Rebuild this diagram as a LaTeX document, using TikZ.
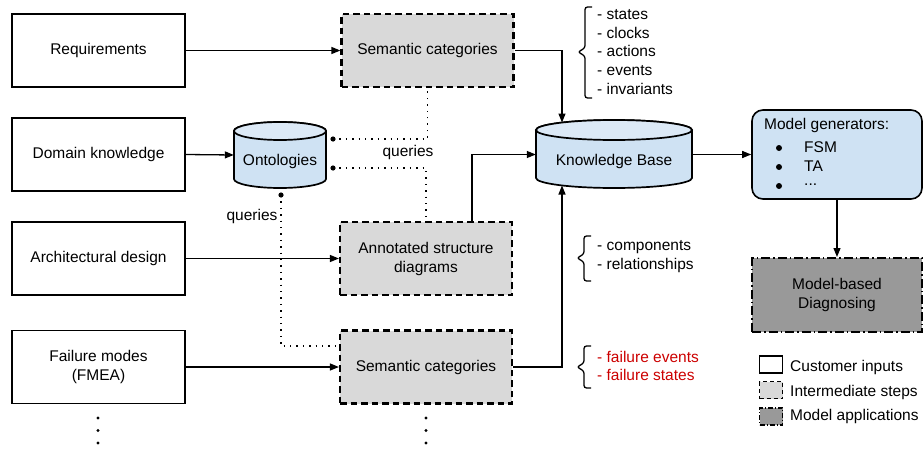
\documentclass[tikz,border=0pt]{standalone}
\usepackage{fontspec}
\setmainfont{Liberation Sans}
\usetikzlibrary{arrows.meta}
\definecolor{lblue}{HTML}{CFE2F3}
\definecolor{lbluetop}{HTML}{DCE9F6}
\definecolor{lgray}{HTML}{D9D9D9}
\definecolor{dgray}{HTML}{999999}
\definecolor{redtxt}{HTML}{CC0000}
\begin{document}
\begin{tikzpicture}[x=1pt,y=-1pt,
  every node/.style={font=\fontsize{15.5pt}{19pt}\selectfont, inner sep=0pt},
  inbox/.style={draw, line width=1.8pt, fill=white, minimum width=173pt, minimum height=73pt, align=center},
  midbox/.style={draw, line width=2.2pt, fill=lgray, dash pattern=on 6.5pt off 4pt, minimum width=172pt, minimum height=73pt, align=center},
  appbox/.style={draw, line width=2pt, fill=dgray, dash pattern=on 9pt off 3pt on 1.5pt off 3pt, minimum width=170pt, minimum height=74pt, align=center},
  genbox/.style={draw, line width=1.6pt, fill=lblue, rounded corners=11pt, minimum width=170pt, minimum height=89pt},
  cylbox/.style={minimum width=#1, minimum height=66pt},
  cyl/.style={line width=1.7pt, fill=lblue},
  arr/.style={line width=1.3pt, -{Triangle[length=9pt,width=7pt]}},
  dots/.style={line width=1.4pt, dash pattern=on 1.4pt off 5pt},
  brace/.style={line width=1.3pt, rounded corners=2.5pt},
  lst/.style={anchor=west, align=left, font=\fontsize{15.5pt}{18.75pt}\selectfont},
  lgbox/.style={minimum width=23pt, minimum height=17pt, line width=1.5pt}
]
\useasboundingbox (0,0) rectangle (924,450);

% customer inputs
\node[inbox] (req)  at (98.5,50.5)  {\raisebox{-1.5pt}{Requirements}};
\node[inbox] (dom)  at (98.5,154.5) {\raisebox{-1.5pt}{Domain knowledge}};
\node[inbox] (arch) at (98.5,258.5) {\raisebox{-1.5pt}{Architectural design}};
\node[inbox] (fail) at (98.5,367)   {Failure modes\\(FMEA)};

% intermediate steps
\node[midbox] (sem1) at (427.5,50.5) {\raisebox{-1.5pt}{Semantic categories}};
\node[midbox] (ann)  at (426,258.5)  {Annotated structure\\diagrams};
\node[midbox] (sem2) at (426,367)    {\raisebox{-1.5pt}{Semantic categories}};

% Ontologies cylinder
\filldraw[cyl] (234,131) -- (234,179) arc[start angle=180,end angle=360,x radius=46pt,y radius=9pt]
  -- (326,131) arc[start angle=0,end angle=180,x radius=46pt,y radius=9pt] -- cycle;
\filldraw[line width=1.7pt, fill=lbluetop] (280,131) ellipse[x radius=46pt,y radius=9pt];
\node[cylbox=92pt] (ont) at (280,155) {};
\node (onttxt) at (280,161) {Ontologies};

% Knowledge base cylinder
\filldraw[cyl] (536,130) -- (536,178) arc[start angle=180,end angle=360,x radius=78pt,y radius=10pt]
  -- (692,130) arc[start angle=0,end angle=180,x radius=78pt,y radius=10pt] -- cycle;
\filldraw[line width=1.7pt, fill=lbluetop] (614,130) ellipse[x radius=78pt,y radius=10pt];
\node[minimum width=156pt, minimum height=68pt] (kb) at (614,154.5) {};
\node (kbtxt) at (614,161) {Knowledge Base};
\coordinate (kbtop) at (562,122.5);
\coordinate (kbbot) at (562,185.5);

% model generators
\node[genbox] (gen) at (837,154.5) {};
\node[anchor=west] (gent) at (764,125) {Model generators:};
\foreach \yy in {148,167,186} \fill (779,\yy) circle (3pt);
\node[anchor=west] (g1) at (804,147) {FSM};
\node[anchor=west] (g2) at (804,166) {TA};
\node[anchor=west] (g3) at (804,185) {...};

% model application
\node[appbox] (diag) at (837,295) {Model-based\\Diagnosing};

% connectors
\draw[arr] (req.east) -- (sem1.west);
\draw[arr] (sem1.east) -| (kbtop);
\draw[arr] (dom.east) -- (ont.west);
\draw[arr] (kb.east) -- (gen.west);
\draw[arr] (arch.east) -- (ann.west);
\draw[arr] ([xshift=46pt]ann.north) |- (kb.west);
\draw[arr] (fail.east) -- (sem2.west);
\draw[arr] (sem2.east) -| (kbbot);
\draw[arr] (gen.south) -- (diag.north);

% dotted query lines
\coordinate (q1) at (333,139);
\coordinate (q2) at (333,168);
\coordinate (q3) at (281,195);
\draw[dots] (q1) -| (sem1.south);
\draw[dots] (q2) -| (ann.north);
\draw[dots] (q3) |- ([yshift=21pt]sem2.west);
\fill (q1) circle (2.6pt);
\fill (q2) circle (2.6pt);
\fill (q3) circle (2.6pt);
\node (ql1) at (408,152) {queries};
\node (ql2) at (252,216) {queries};

% continuation dots
\foreach \yy in {418,430.5,443} {
  \fill (98,\yy) circle (1.6pt);
  \fill (426,\yy) circle (1.6pt);
}

% braces
\draw[brace] (592,7) -- (585,7) -- (585,48) -- (578,52) -- (585,56) -- (585,98) -- (592,98);
\draw[brace] (591,236) -- (584,236) -- (584,254) -- (577,258) -- (584,262) -- (584,281) -- (591,281);
\draw[brace] (591,346) -- (584,346) -- (584,363) -- (577,367) -- (584,371) -- (584,388) -- (591,388);

\node[lst] (l1) at (597,52) {- states\\- clocks\\- actions\\- events\\- invariants};
\node[lst] (l2) at (597,256.5) {- components\\- relationships};
\node[lst, text=redtxt] (l3) at (597,366) {- failure events\\- failure states};

% legend
\node[lgbox, draw, fill=white] (lg1) at (771,364.5) {};
\node[lgbox, draw, fill=lgray, dash pattern=on 4pt off 3pt] (lg2) at (771,390) {};
\node[lgbox, draw, fill=dgray, dash pattern=on 5pt off 2pt on 1pt off 2pt] (lg3) at (771,416.5) {};
\node[anchor=west] (lt1) at (790,367) {Customer inputs};
\node[anchor=west] (lt2) at (790,392) {Intermediate steps};
\node[anchor=west] (lt3) at (790,416) {Model applications};
\end{tikzpicture}
\end{document}
